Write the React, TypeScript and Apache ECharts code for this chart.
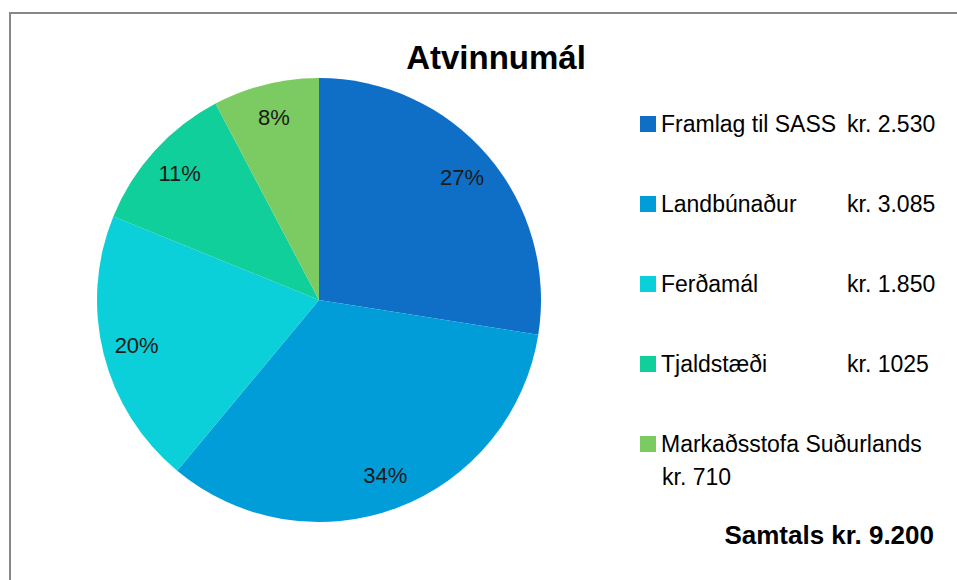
import React, { useEffect, useRef } from "react";
import * as echarts from "echarts";

const categories = ["Framlag til SASS", "Landbúnaður", "Ferðamál", "Tjaldstæði", "Markaðsstofa Suðurlands"];
const values = [2530, 3085, 1850, 1025, 710];
const amountLabels = ["kr. 2.530", "kr. 3.085", "kr. 1.850", "kr. 1025", "kr. 710"];
const colors = ["#0F6FC6", "#009DD9", "#0BD0D9", "#10CF9B", "#7CCA62"];
const titleText = "Atvinnumál";
const totalText = "Samtals kr. 9.200";

const FONT = "'Liberation Sans', Arial, sans-serif";

export default function App() {
  const ref = useRef<HTMLDivElement>(null);
  useEffect(() => {
    if (!ref.current) return;
    const chart = echarts.init(ref.current, undefined, { renderer: "svg" });
    const data = categories.map((name, i) => ({ name, value: values[i], itemStyle: { color: colors[i] } }));
    const lastIdx = categories.length - 1;
    chart.setOption({
      animation: false,
      backgroundColor: "#ffffff",
      textStyle: { fontFamily: FONT },
      legend: {
        orient: "vertical",
        left: 635,
        top: 107,
        padding: 5,
        itemWidth: 16,
        itemHeight: 16,
        itemGap: 56,
        icon: "rect",
        selectedMode: false,
        data: categories,
        formatter: (name: string) => {
          const i = categories.indexOf(name);
          if (i === lastIdx) return `{n|${name}}`;
          return `{n|${name}}{a|${amountLabels[i]}}`;
        },
        textStyle: {
          fontFamily: FONT,
          fontSize: 23,
          color: "#000",
          lineHeight: 24,
          rich: {
            n: { fontFamily: FONT, fontSize: 23, color: "#000", width: 186, lineHeight: 24 },
            a: { fontFamily: FONT, fontSize: 23, color: "#000", lineHeight: 24 },
          },
        },
      },
      graphic: [
        {
          type: "rect",
          silent: true,
          shape: { x: 10, y: 13, width: 1000, height: 700 },
          style: { fill: "none", stroke: "#878787", lineWidth: 2 },
          z: 0,
        },
        {
          type: "text",
          x: 496,
          y: 57,
          style: {
            text: titleText,
            fontFamily: FONT,
            fontSize: 33,
            fontWeight: "bold",
            fill: "#000",
            align: "center",
            verticalAlign: "middle",
          },
        },
        {
          type: "text",
          x: 662,
          y: 477,
          style: {
            text: amountLabels[lastIdx],
            fontFamily: FONT,
            fontSize: 23,
            fill: "#000",
            align: "left",
            verticalAlign: "middle",
          },
        },
        {
          type: "text",
          x: 934,
          y: 535,
          style: {
            text: totalText,
            fontFamily: FONT,
            fontSize: 26,
            fontWeight: "bold",
            fill: "#000",
            align: "right",
            verticalAlign: "middle",
          },
        },
      ],
      series: [
        {
          type: "pie",
          center: [319, 300],
          radius: [0, 222],
          startAngle: 90,
          clockwise: true,
          data,
          label: { show: false },
          labelLine: { show: false },
          itemStyle: { borderWidth: 0 },
          emphasis: { disabled: true },
          silent: true,
        },
        {
          type: "pie",
          center: [319, 300],
          radius: [148, 222],
          startAngle: 90,
          clockwise: true,
          data: categories.map((name, i) => ({ name, value: values[i] })),
          itemStyle: { color: "transparent", borderWidth: 0 },
          label: {
            show: true,
            position: "inside",
            formatter: "{d}%",
            fontFamily: FONT,
            fontSize: 22,
            color: "#1a1a1a",
          },
          percentPrecision: 0,
          labelLine: { show: false },
          emphasis: { disabled: true },
          silent: true,
        },
      ],
    });
    return () => chart.dispose();
  }, []);
  return (
    <div
      ref={ref}
      style={{ position: "fixed", left: 0, top: 0, width: 957, height: 580 }}
    />
  );
}
